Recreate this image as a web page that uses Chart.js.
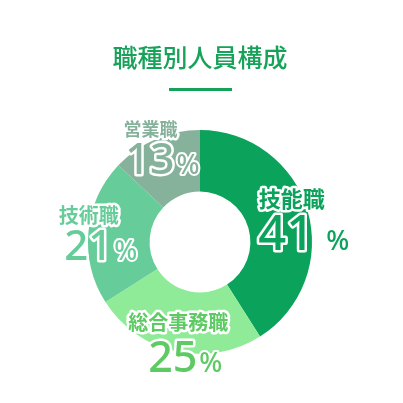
<!DOCTYPE html>
<html>
<head>
<meta charset="utf-8">
<script src="https://cdn.jsdelivr.net/npm/chart.js@4/dist/chart.umd.min.js"></script>
<style>
  html, body { margin: 0; padding: 0; background: #fff; }
  #wrap { width: 403px; height: 403px; }
</style>
</head>
<body>
<div id="wrap"><canvas id="chart" width="403" height="403"></canvas></div>
<script>
const titleText = '職種別人員構成'
const categories = ['技能職', '総合事務職', '技術職', '営業職']
const shares = [41, 25, 21, 13]
const sliceColors = ['#0ba35b', '#90eb98', '#66cc99', '#86b29b']
const labelColors = ['#0ba35b', '#5dca63', '#66cc99', '#86b29b']
const titleColor = '#17a25a'

// label styling per slice: name size, number size, offsets from the slice anchor
const labelStyle = [
    { name: 22, num: 49, pct: 27, gap: 12, nameDx: -4, nameDy: -16, numDx: 8, numDy: 36 },
    { name: 20, num: 43, pct: 27, gap: 2, nameDx: 0, nameDy: -17, numDx: 7, numDy: 33 },
    { name: 20, num: 42, pct: 27, gap: 2, nameDx: -12, nameDy: -17, numDx: 0, numDy: 27 },
    { name: 18, num: 43, pct: 27, gap: 2, nameDx: -10, nameDy: -21, numDx: 2, numDy: 23 }
]

const jpFont = '"Noto Sans CJK JP", "Noto Sans", sans-serif'
const numFont = '"Noto Sans", "Open Sans", sans-serif'

const outlinedText = (ctx, text, x, y, color, width) => {
    ctx.lineJoin = 'round'
    ctx.lineWidth = width
    ctx.strokeStyle = '#ffffff'
    ctx.strokeText(text, x, y)
    ctx.fillStyle = color
    ctx.fillText(text, x, y)
}

const sliceLabels = {
    id: 'sliceLabels',
    afterDatasetsDraw(chart) {
        const ctx = chart.ctx
        const meta = chart.getDatasetMeta(0)
        meta.data.forEach((arc, i) => {
            const p = arc.getProps(['x', 'y', 'startAngle', 'endAngle', 'outerRadius'], true)
            const mid = (p.startAngle + p.endAngle) / 2
            const r = p.outerRadius * 0.89
            const ax = p.x + Math.cos(mid) * r
            const ay = p.y + Math.sin(mid) * r
            const s = labelStyle[i]
            const color = labelColors[i]
            ctx.save()

            ctx.font = `bold ${s.name}px ${jpFont}`
            ctx.textAlign = 'center'
            ctx.textBaseline = 'middle'
            outlinedText(ctx, categories[i], ax + s.nameDx, ay + s.nameDy, color, 5)

            const digits = String(shares[i])
            ctx.textBaseline = 'alphabetic'
            ctx.font = `500 ${s.num}px ${numFont}`
            const wd = ctx.measureText(digits).width
            ctx.font = `500 ${s.pct}px ${numFont}`
            const wp = ctx.measureText('%').width
            const total = wd + s.gap + wp
            const left = ax + s.numDx - total / 2
            const base = ay + s.numDy
            ctx.textAlign = 'left'
            ctx.font = `500 ${s.num}px ${numFont}`
            outlinedText(ctx, digits, left, base, color, 5)
            ctx.font = `500 ${s.pct}px ${numFont}`
            outlinedText(ctx, '%', left + wd + s.gap, base, color, 4)
            ctx.restore()
        })
    }
}

const titleRule = {
    id: 'titleRule',
    afterDraw(chart) {
        const tb = chart.titleBlock
        if (!tb) return
        const ctx = chart.ctx
        const cx = (tb.left + tb.right) / 2
        ctx.save()
        ctx.fillStyle = titleColor
        ctx.fillRect(cx - 31, tb.top + 88, 63, 3)
        ctx.restore()
    }
}

new Chart(document.getElementById('chart').getContext('2d'), {
    type: 'doughnut',
    data: {
        labels: categories,
        datasets: [{
            data: shares,
            backgroundColor: sliceColors,
            borderWidth: 0,
            hoverOffset: 0
        }]
    },
    options: {
        responsive: false,
        animation: false,
        cutout: '45%',
        layout: {
            padding: { left: 88, right: 91, top: 0, bottom: 49 }
        },
        plugins: {
            legend: { display: false },
            tooltip: { enabled: false },
            title: {
                display: true,
                text: titleText,
                color: titleColor,
                font: { family: jpFont, size: 25, weight: '500', lineHeight: 1.2 },
                padding: { top: 42, bottom: 58 }
            }
        }
    },
    plugins: [sliceLabels, titleRule]
})
</script>
</body>
</html>
